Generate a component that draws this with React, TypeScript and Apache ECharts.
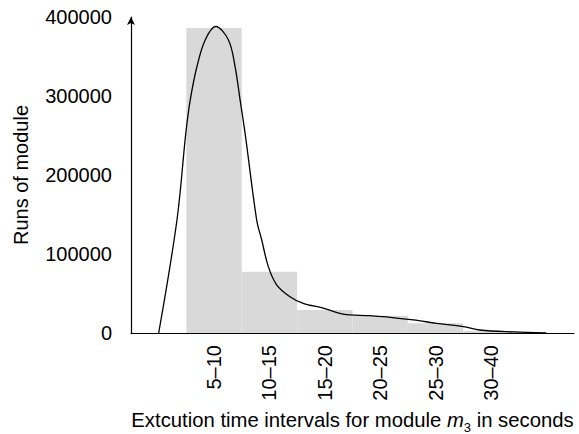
import React, { useEffect, useRef } from "react";
import * as echarts from "echarts";

const categories = ["", "5–10", "10–15", "15–20", "20–25", "25–30", "30–40", ""];
const barValues = [null, 386000, 77600, 29100, 21900, 12300, 2500, null];

const curveX = [0.5, 0.83, 0.99, 1.07, 1.19, 1.34, 1.53, 1.76, 1.88, 1.97, 2.06, 2.27, 2.36, 2.48, 2.63, 2.87, 3.11, 3.47, 3.83, 4.31, 4.68, 5.1, 5.52, 6.0, 6.3, 6.9, 7.5];
const curveY = [0, 143000, 253000, 295000, 337000, 371000, 388000, 371000, 337000, 295000, 253000, 143000, 118000, 84000, 61000, 46000, 37600, 31600, 24000, 21900, 19900, 16500, 12300, 8000, 3800, 1300, 0];

const yTicks = [0, 100000, 200000, 300000, 400000];

const FONT = "'Liberation Sans', Arial, sans-serif";
const FS = 20;

export default function App() {
  const ref = useRef<HTMLDivElement>(null);
  useEffect(() => {
    if (!ref.current) return;
    const chart = echarts.init(ref.current, null, { renderer: "svg" });
    chart.setOption({
      animation: false,
      backgroundColor: "#fff",
      textStyle: { fontFamily: FONT },
      grid: { left: 131, right: 5, top: 17, bottom: 101, containLabel: false, outerBoundsMode: "none" },
      xAxis: [
        {
          type: "category",
          data: categories,
          boundaryGap: true,
          axisLine: { show: true, lineStyle: { color: "#000", width: 1.2 } },
          axisTick: { show: false },
          axisLabel: { rotate: 90, fontSize: FS, color: "#000", margin: 12, fontFamily: FONT, interval: 0 },
          name: "{a|Extcution time intervals for module }{i|m}{s|3}{a| in seconds}",
          nameLocation: "middle",
          nameGap: 77,
          nameMoveOverlap: false,
          nameTextStyle: {
            rich: {
              a: { fontSize: 20.3, color: "#000", fontFamily: FONT, lineHeight: 24, verticalAlign: "top" },
              i: { fontSize: 20.3, color: "#000", fontFamily: FONT, fontStyle: "italic", lineHeight: 24, verticalAlign: "top" },
              s: { fontSize: 13, color: "#000", fontFamily: FONT, lineHeight: 24, verticalAlign: "top", padding: [11, 0, 0, 0] },
            },
          },
        },
        {
          type: "value",
          min: 0,
          max: 8,
          show: false,
        },
      ],
      yAxis: {
        type: "value",
        min: 0,
        max: yTicks[yTicks.length - 1],
        interval: 100000,
        splitLine: { show: false },
        axisTick: { show: false },
        axisLine: { show: true, symbol: ["none", "arrow"], symbolSize: [6, 8], lineStyle: { color: "#000", width: 1.2 } },
        axisLabel: { fontSize: FS, color: "#000", margin: 19, fontFamily: FONT, formatter: (v: number) => String(v) },
        name: "Runs of module",
        nameLocation: "middle",
        nameRotate: 90,
        nameGap: 100,
        nameMoveOverlap: false,
        nameTextStyle: { fontSize: FS, color: "#000", fontFamily: FONT },
      },
      series: [
        {
          type: "bar",
          xAxisIndex: 0,
          data: barValues,
          barWidth: "100%",
          barCategoryGap: 0,
          itemStyle: { color: "#d9d9d9" },
          silent: true,
        },
        {
          type: "line",
          xAxisIndex: 1,
          data: curveX.map((x, i) => [x, curveY[i]]),
          smooth: 0.35,
          symbol: "none",
          lineStyle: { color: "#000", width: 1.3 },
          silent: true,
        },
      ],
    });
    return () => chart.dispose();
  }, []);
  return <div ref={ref} style={{ width: 579, height: 434, position: "absolute", left: 0, top: 0 }} />;
}
